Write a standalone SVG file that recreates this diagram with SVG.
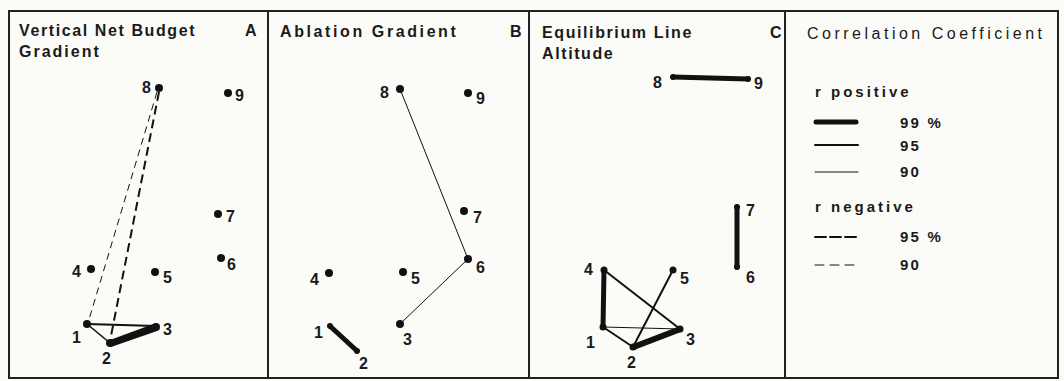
<svg xmlns="http://www.w3.org/2000/svg" width="1064" height="381" viewBox="0 0 1064 381">
<style>
.t{font-family:"Liberation Sans",Arial,sans-serif;font-weight:bold;font-size:16px;letter-spacing:1.6px;fill:#1a1a1a}
.n{font-family:"Liberation Sans",Arial,sans-serif;font-weight:bold;font-size:16px;fill:#1a1a1a}
.lg{font-family:"Liberation Sans",Arial,sans-serif;font-weight:bold;font-size:15px;letter-spacing:2.2px;fill:#1a1a1a}
.lt{font-family:"Liberation Sans",Arial,sans-serif;font-size:16px;letter-spacing:3.5px;fill:#1a1a1a}
.frame{fill:none;stroke:#222;stroke-width:2}
.e{stroke:#111;stroke-linecap:round;fill:none}
.p99{stroke-width:5}
.p95{stroke-width:2}
.p90{stroke-width:1}
.n95{stroke-width:2;stroke-dasharray:9 5;stroke-linecap:butt}
.n90{stroke-width:1;stroke-dasharray:7 5;stroke-linecap:butt}
.d{fill:#111}
</style>
<rect x="0" y="0" width="1064" height="381" fill="#fbfbf8"/>
<g id="frames">
<rect class="frame" x="9" y="11" width="1049" height="367"/>
<line class="frame" x1="268" y1="11" x2="268" y2="378"/>
<line class="frame" x1="529" y1="11" x2="529" y2="378"/>
<line class="frame" x1="785" y1="11" x2="785" y2="378"/>
</g>
<g id="titles">
<text class="t" x="19" y="36">Vertical Net Budget</text>
<text class="t" x="19" y="57" style="letter-spacing:2px">Gradient</text>
<text class="t" x="245" y="36">A</text>
<text class="t" x="280" y="37" style="letter-spacing:2.6px">Ablation Gradient</text>
<text class="t" x="510" y="37">B</text>
<text class="t" x="542" y="38">Equilibrium Line</text>
<text class="t" x="542" y="59">Altitude</text>
<text class="t" x="770" y="38">C</text>
</g>
<g id="connectors">
<!-- Panel A -->
<line class="e n90" x1="157" y1="92" x2="88" y2="323"/>
<line class="e n95" x1="159" y1="92" x2="110" y2="341"/>
<line class="e p95" x1="87" y1="324" x2="156" y2="326"/>
<line class="e" stroke-width="1.6" x1="87" y1="324" x2="110" y2="343"/>
<path d="M110 340 L156 323 L157 331 L111 347 Z" fill="#111"/>
<!-- Panel B -->
<line class="e p90" x1="400" y1="89" x2="468" y2="259"/>
<line class="e p90" x1="468" y1="259" x2="400" y2="324"/>
<line class="e p99" x1="331" y1="327" x2="356" y2="350"/>
<!-- Panel C -->
<line class="e p99" x1="673" y1="77" x2="748" y2="79"/>
<line class="e p99" x1="737" y1="207" x2="737" y2="267"/>
<line class="e p99" x1="604" y1="270" x2="603" y2="327"/>
<line class="e p95" x1="604" y1="270" x2="680" y2="329"/>
<line class="e p90" x1="603" y1="327" x2="680" y2="329"/>
<line class="e p95" x1="603" y1="327" x2="633" y2="347"/>
<line class="e p95" x1="633" y1="347" x2="673" y2="270"/>
<path d="M633 344 L680 326 L681 332 L634 350 Z" fill="#111"/>
</g>
<g id="panelA">
<g id="A8"><circle class="d" cx="159" cy="88" r="4"/><text class="n" x="142" y="93">8</text></g>
<g id="A9"><circle class="d" cx="228" cy="93" r="4"/><text class="n" x="235" y="101">9</text></g>
<g id="A7"><circle class="d" cx="218" cy="214" r="4"/><text class="n" x="226" y="222">7</text></g>
<g id="A6"><circle class="d" cx="221" cy="258" r="4"/><text class="n" x="227" y="270">6</text></g>
<g id="A4"><circle class="d" cx="91" cy="269" r="4"/><text class="n" x="72" y="277">4</text></g>
<g id="A5"><circle class="d" cx="155" cy="272" r="4"/><text class="n" x="163" y="283">5</text></g>
<g id="A1"><circle class="d" cx="87" cy="324" r="4"/><text class="n" x="72" y="343">1</text></g>
<g id="A2"><circle class="d" cx="110" cy="343" r="4"/><text class="n" x="102" y="364">2</text></g>
<g id="A3"><circle class="d" cx="156" cy="327" r="4"/><text class="n" x="163" y="335">3</text></g>
</g>
<g id="panelB">
<g id="B8"><circle class="d" cx="400" cy="89" r="4"/><text class="n" x="380" y="98">8</text></g>
<g id="B9"><circle class="d" cx="468" cy="93" r="4"/><text class="n" x="476" y="104">9</text></g>
<g id="B7"><circle class="d" cx="464" cy="211" r="4"/><text class="n" x="473" y="223">7</text></g>
<g id="B6"><circle class="d" cx="468" cy="259" r="4"/><text class="n" x="476" y="273">6</text></g>
<g id="B4"><circle class="d" cx="329" cy="273" r="4"/><text class="n" x="310" y="285">4</text></g>
<g id="B5"><circle class="d" cx="403" cy="272" r="4"/><text class="n" x="411" y="284">5</text></g>
<g id="B1"><circle class="d" cx="330" cy="326" r="3"/><text class="n" x="314" y="338">1</text></g>
<g id="B2"><circle class="d" cx="357" cy="351" r="3"/><text class="n" x="359" y="369">2</text></g>
<g id="B3"><circle class="d" cx="400" cy="324" r="4"/><text class="n" x="403" y="345">3</text></g>
</g>
<g id="panelC">
<g id="C8"><circle class="d" cx="673" cy="77" r="3"/><text class="n" x="653" y="88">8</text></g>
<g id="C9"><circle class="d" cx="748" cy="79" r="3"/><text class="n" x="754" y="89">9</text></g>
<g id="C7"><circle class="d" cx="737" cy="207" r="3"/><text class="n" x="746" y="216">7</text></g>
<g id="C6"><circle class="d" cx="737" cy="267" r="3"/><text class="n" x="746" y="283">6</text></g>
<g id="C4"><circle class="d" cx="604" cy="270" r="3.5"/><text class="n" x="584" y="275">4</text></g>
<g id="C5"><circle class="d" cx="673" cy="270" r="3.5"/><text class="n" x="680" y="284">5</text></g>
<g id="C1"><circle class="d" cx="603" cy="327" r="3.5"/><text class="n" x="586" y="348">1</text></g>
<g id="C2"><circle class="d" cx="633" cy="347" r="3.5"/><text class="n" x="627" y="368">2</text></g>
<g id="C3"><circle class="d" cx="680" cy="329" r="3.5"/><text class="n" x="686" y="345">3</text></g>
</g>
<g id="legend">
<text class="lt" x="807" y="39">Correlation Coefficient</text>
<text class="t" x="815" y="97" style="font-size:15px;letter-spacing:3px">r positive</text>
<line class="e p99" x1="816" y1="122" x2="856" y2="122" stroke-linecap="butt"/>
<text class="lg" x="900" y="128">99 %</text>
<line class="e p95" x1="815" y1="145" x2="858" y2="145" stroke-linecap="butt"/>
<text class="lg" x="900" y="151">95</text>
<line class="e p90" x1="815" y1="172" x2="858" y2="172" stroke="#444"/>
<text class="lg" x="900" y="177">90</text>
<text class="t" x="815" y="212" style="font-size:15px;letter-spacing:3px">r negative</text>
<line class="e" stroke-width="2" stroke-dasharray="11 4" x1="815" y1="237" x2="858" y2="237"/>
<text class="lg" x="900" y="242">95 %</text>
<line class="e" stroke-width="1" stroke="#555" stroke-dasharray="9 6" x1="815" y1="265" x2="858" y2="265"/>
<text class="lg" x="900" y="270">90</text>
</g>
</svg>
